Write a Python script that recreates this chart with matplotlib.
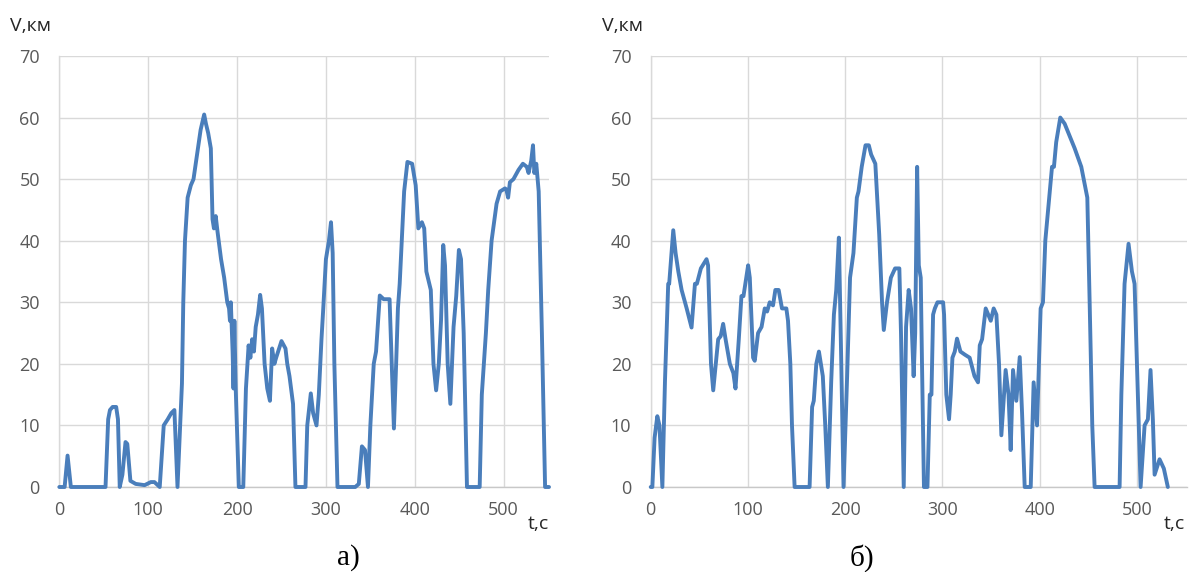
import matplotlib
matplotlib.use("Agg")
import matplotlib.pyplot as plt

# ---- data: panel а) ----
t_a = [0, 6, 9.3, 13, 52, 55, 57, 60, 64, 66, 68, 71, 74.5, 76.5, 80, 86, 96, 103, 107, 113,
       117.5, 122, 126, 129.5, 133, 138, 139.5, 141.4, 144.4, 148, 151, 154, 157, 159, 163, 165,
       167.5, 170.5, 172.4, 174, 176, 178, 182, 185.5, 189, 191, 192, 193, 195, 196, 197, 198.5,
       202, 207, 210, 213, 215, 217, 219, 221, 223.5, 226, 228, 231, 234, 237, 238.5, 239.5, 242,
       244, 250, 254.5, 256.5, 259, 263, 265.7, 277, 279, 283, 285.6, 289.4, 292, 295, 297, 300,
       303.4, 305.7, 307.6, 309.5, 313, 333, 337, 340.5, 344, 347.3, 350, 353.8, 356.4, 360.6,
       365, 371.6, 374, 376.5, 379, 381, 383, 388, 391.7, 397, 401, 404, 408, 410.6, 413, 418,
       421, 424, 427, 429.5, 432, 434, 437, 440, 443.6, 446.6, 449.6, 452, 455, 458.7, 473,
       475.4, 477.7, 480, 482.6, 486.4, 492, 496, 501.5, 503, 505, 507, 511, 516.7, 521.6, 526,
       528, 531, 533, 534.5, 536.7, 539.4, 543, 546.6, 551]
v_a = [0, 0, 5.1, 0, 0, 11, 12.5, 13, 13, 11, 0, 2, 7.3, 7, 1, 0.5, 0.3, 0.8, 0.8, 0,
       10, 11, 12, 12.5, 0, 16.8, 30, 40, 47, 49, 50, 53, 56, 58, 60.5, 59,
       57.5, 55, 43.5, 42, 44, 41.5, 37, 34, 30, 29, 27, 30, 22, 16, 27, 16,
       0, 0, 16, 23, 21, 24, 22, 26, 28, 31.2, 29, 20, 16, 14, 19, 22.5, 20,
       21, 23.7, 22.5, 20, 18, 13.5, 0, 0, 10, 15.2, 12, 10, 15, 24, 29, 37,
       40, 43, 38, 20, 0, 0, 0.5, 6.6, 6, 0, 10, 20, 22, 31.1,
       30.5, 30.5, 20, 9.5, 20, 29, 33, 48, 52.8, 52.5, 49, 42, 43, 42, 35, 32,
       20, 15.7, 20, 27, 39.3, 36, 20, 13.5, 26, 31, 38.5, 37, 25, 0, 0,
       15, 20, 25, 32, 40, 46, 48, 48.5, 48.3, 47, 49.5, 50, 51.5, 52.5, 52,
       51, 53, 55.5, 51, 52.5, 48, 25, 0, 0]

# ---- data: panel б) ----
t_b = [0, 1.7, 4, 6.8, 9, 12, 14.7, 18, 19, 23.2, 25.6, 28.4, 31.8, 37, 42, 45.5, 47.5, 51.6,
       57.4, 59, 62, 64.3, 69.4, 72, 74.5, 77, 81.4, 85, 87.2, 90.6, 93.3, 95.4, 100.2, 101.9,
       105.3, 107, 110.4, 114, 117.3, 119.7, 122.4, 125.8, 128.2, 131.6, 135, 139.5, 141.2,
       143.6, 145.3, 148, 163.4, 166, 167.7, 170.3, 173, 177, 179.5, 182.2, 185.6, 188.4, 190.8,
       193.5, 196, 198.3, 202, 205, 208.5, 212, 213.7, 217, 220.9, 224.3, 226.7, 231, 235, 237.9,
       239.7, 243, 247, 251.3, 255.7, 257.4, 259.1, 260.2, 262.6, 265.3, 267.7, 270.4, 272, 274,
       275.7, 277.7, 279, 281, 284.6, 287, 288.7, 290.4, 292.2, 294.9, 300.7, 301.7, 304, 306.8,
       308.5, 310.3, 312.7, 315, 318.5, 323, 328, 333, 336.6, 338.4, 340.8, 344.5, 349.7, 352.7,
       355.5, 358.2, 360.6, 365, 368, 370.2, 372.6, 376, 379.5, 381.9, 384.6, 390.8, 393.8,
       397.3, 401, 403.4, 405.8, 409.2, 412.7, 414.7, 417, 421.2, 425.7, 430.8, 436, 442.8, 449,
       451.4, 454.1, 456.5, 482.2, 484, 487.3, 491.4, 494.9, 497.6, 503.8, 507.9, 511.3, 514,
       516.4, 518.2, 523.3, 527.7, 531.8]
v_b = [0, 0, 8, 11.5, 10, 0, 17.3, 33, 33, 41.7, 38, 35, 32, 29, 25.9, 33, 33, 35.5,
       37, 36, 20, 15.7, 24, 24.5, 26.5, 24, 20, 18.5, 16, 24, 31, 31, 36, 34,
       21, 20.5, 25, 26, 29, 28.5, 30, 29.5, 32, 32, 29, 29, 27,
       20, 10, 0, 0, 13, 14, 20, 22, 18, 10, 0, 17, 28, 32,
       40.5, 20, 0, 18, 34, 38, 47, 48, 52, 55.5, 55.5, 54, 52.5, 41, 30,
       25.5, 30, 34, 35.5, 35.5, 25, 10, 0, 26, 32, 29, 18, 25, 52,
       36, 34, 20, 0, 0, 15, 15, 28, 29, 30, 30, 28, 15, 11,
       15, 21, 22, 24.1, 22, 21.5, 21, 18, 17, 23, 24, 29, 27, 29,
       28, 20, 8.4, 19, 15, 6, 19, 14, 21.1, 12, 0, 0, 17,
       10, 29, 30, 40, 46, 52, 52, 56, 60, 59, 57, 55, 52, 47,
       30, 10, 0, 0, 15, 33, 39.5, 35, 33, 0, 10, 11, 19,
       11, 2, 4.5, 3, 0]

x_ticks = [0, 100, 200, 300, 400, 500]
y_ticks = [0, 10, 20, 30, 40, 50, 60, 70]
panel_labels = ["а)", "б)"]
y_title = "V,км"
x_title = "t,c"

W, H = 1194, 572
fig = plt.figure(figsize=(W / 100, H / 100), dpi=100)

line_color = "#4a7ebb"
grid_color = "#d9d9d9"
tick_color = "#595959"
tick_font = "Open Sans"

axes_px = [(59.3, 549.0), (650.7, 1186.5)]
top_px, bot_px = 56.0, 487.0
series = [(t_a, v_a), (t_b, v_b)]

for i, ((x0, x1), (tt, vv)) in enumerate(zip(axes_px, series)):
    ax = fig.add_axes([x0 / W, 1 - bot_px / H, (x1 - x0) / W, (bot_px - top_px) / H])
    ax.plot(tt, vv, color=line_color, lw=2.8, solid_joinstyle="round",
            solid_capstyle="round", zorder=3, clip_on=False)
    ax.set_xlim(0, 551)
    ax.set_ylim(0, 70)
    ax.set_xticks(x_ticks)
    ax.set_yticks(y_ticks)
    ax.grid(True, color=grid_color, lw=1.0, zorder=0)
    for s in ["top", "right"]:
        ax.spines[s].set_visible(False)
    ax.spines["left"].set_color(grid_color)
    ax.spines["bottom"].set_color("#c8c8c8")
    ax.spines["left"].set_linewidth(1.0)
    ax.spines["bottom"].set_linewidth(1.0)
    ax.tick_params(length=0, colors=tick_color, labelsize=13, pad=10)
    ax.tick_params(axis="y", pad=14)
    for lab in ax.get_xticklabels() + ax.get_yticklabels():
        lab.set_fontfamily(tick_font)
    ax.set_axisbelow(True)

    # axis titles
    fig.text((x0 - 49) / W, 1 - 26 / H, y_title, fontsize=14, color="#262626",
             family=tick_font, ha="left", va="center")
    fig.text((x1 - 21) / W if i == 0 else (x1 - 23) / W, 1 - 524 / H, x_title, fontsize=14,
             color="#262626", family=tick_font, ha="left", va="center")

fig.text(348 / W, 1 - 558 / H, panel_labels[0], fontsize=21, family="Liberation Serif",
         ha="center", va="center", color="black")
fig.text(862 / W, 1 - 558 / H, panel_labels[1], fontsize=21, family="Liberation Serif",
         ha="center", va="center", color="black")

fig.savefig("out.png", dpi=100, facecolor="white")
